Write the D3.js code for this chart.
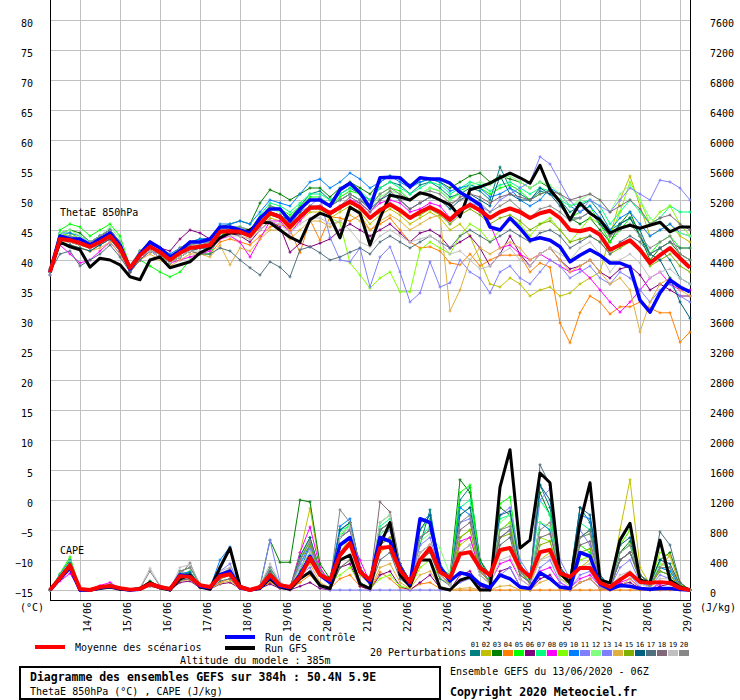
<!DOCTYPE html>
<html><head><meta charset="utf-8">
<script src="https://cdn.jsdelivr.net/npm/d3@7"></script>
<style>
body{margin:0;background:#fff}
svg text{font-family:"DejaVu Sans Mono",monospace;font-size:10px;fill:#000}
</style></head><body>
<script>
// ---- data (6h steps, 0..384h from 13/06 06Z) ----
var dayLabels = ["14/06","15/06","16/06","17/06","18/06","19/06","20/06","21/06","22/06","23/06","24/06","25/06","26/06","27/06","28/06","29/06"];
var thetaTicks = [-15,-10,-5,0,5,10,15,20,25,30,35,40,45,50,55,60,65,70,75,80];
var capeTicks = [0,400,800,1200,1600,2000,2400,2800,3200,3600,4000,4400,4800,5200,5600,6000,6400,6800,7200,7600];
var memberColors = ["#008080","#c0c000","#008000","#ff8000","#00ff00","#800080","#00ff80","#ff00ff","#80ff00","#0080ff",
                    "#8080ff","#80ff80","#8080ff","#e0b040","#80b000","#006080","#507080","#806878","#c0c0c0","#888888"];

// ThetaE 850hPa (°C)
var thetaMean = [38.0,43.5,43.3,42.8,42.2,43.0,44.0,42.0, 38.7,40.8,42.2,41.3,40.0,41.2,42.0,42.2, 42.5,44.7,44.8,44.7,44.0,46.0,47.8,47.2,
  45.5,47.2,48.7,48.8,47.8,48.8,49.7,48.8, 47.0,48.3,49.3,48.3,47.0,48.0,48.8,48.0, 46.7,48.3,49.2,48.3,47.0,48.0,48.6,48.0,
  47.0,47.8,48.2,47.0,45.0,44.8,45.2,44.2, 41.7,42.5,43.3,41.7,39.5,40.8,42.0,40.3, 38.7];
var thetaCtrl = [38,44,43.5,43.5,42.5,43.5,44.5,42.5, 38.5,41,43,42,40.5,41.5,43,43, 43.5,45.5,45.5,45,44.5,47,48.5,48.5,
  46.5,48.5,50,50,49,51.7,52.8,51.2, 48.7,53.7,53.8,53.7,52.2,53.7,53.5,53.5, 52.8,51.3,50.3,49.2,45.5,45,47,45.3,
  43.3,43.7,43.3,42.2,39.7,40.8,41.7,40.8, 39.5,39.5,38.8,33.3,31.3,34.5,36.7,35.5, 34.7];
var thetaGfs = [38,43,42.2,41.7,38.8,40.3,40,39.2, 37.2,36.7,40,40.5,38.7,39.2,39.7,41.2, 42,43.7,44.5,44.5,45,46.3,46.2,45,
  43.8,43,46.7,47.8,47.2,43.7,48.8,47.8, 42.5,47,50.8,50.5,50,51.2,50.8,50, 49.2,47.2,51.7,52.2,52.8,53.7,54.5,53.7,
  52.8,55.8,51.7,49.7,46.7,49.5,47.8,46.7, 44.5,45.3,45.8,45.3,45.8,46.3,44.7,45.5, 45.5];
var thetaP01 = [37.5,44,44.5,43.5,42,43.5,44.5,42.5, 38.5,41,43,42,40.5,41.5,42.5,43, 43,45.5,45,45,44.5,47,49,48.5,
  47,49,51,51.5,50,51,52,51, 50,52,53,52.5,51,52.5,53,52, 50.5,51,52,51.5,50,55.5,52,51, 50,51.5,51,50,48,49,50,48, 45,46,47,45,41,42,40,37, 36];
var thetaP02 = [38,43,43,42.5,42,42.5,43.5,41.5, 38,40.5,41.5,41,39.5,40.5,41.5,42, 42,44,44.5,44,43.5,45.5,47,46.5,
  45,46.5,48,48,47,48,49,48, 46,47.5,48.5,47.5,46,47,48,47, 45,46,44,40,36,35.5,37,36, 34,35,35.5,34,34.5,36,37,38, 44,50,54,49,44,45,46,44, 43];
var thetaP03 = [38.5,44.5,45,44.5,43,44,45,43, 39,41.5,43,42,40.5,42,43,43.5, 43.5,45.5,46,46.5,46,49.5,51.7,51,
  50,51,52,52,50.5,52,53,52, 51,53,54,53.5,52.5,53,53.5,53, 52,53,54,54.5,53,54,53.5,53, 52,53,52,50,47,46,47,45, 43,46,48,44,40,42,43,41, 40];
var thetaP04 = [37.5,43,42.5,42,41.5,42.5,43.5,41.5, 38,40,41.5,40.5,39.5,40.5,41.5,41, 41,43,43.5,43,42.5,44,45.5,46,
  45,41.2,46.7,43.3,47.2,47,46.5,47.5, 45,46,47,45,43,42,42.2,41.5, 39.5,39.2,41,39,40,40.8,40.8,40.8, 38,39.5,38.8,29.5,26.2,31.2,34,33, 31,32.2,32.2,33,32,31.2,31.2,26.3, 28];
var thetaP05 = [38,45,46,45.5,44,45,46,44, 39,40,39,38,37.2,38,40,41, 41,44,45,45.5,45,47,49,48.5,
  47.5,49,50.5,50.5,49,50.5,51.5,51, 49,51,52,51.5,50,51,52,51.5, 50,51.5,52.5,52,51,52,52.5,51.5, 50,51,51.5,50,47,48,49,46, 43,45,47,44,41,43,44,42, 42];
var thetaP06 = [38,43.5,43,42.5,42.5,44,45,43, 39,41,42.5,42,41.5,43.5,45,44.5, 43.5,45,44.5,44,43,45,46.5,45.5,
  41.3,42.8,42.2,42.8,43.5,45,46,45, 44,45,46,44.5,43,44.5,45,44, 42,43,44,42,39,41,44,41, 39,41,42,40,38.5,39,40,38, 37,38.5,39,37.5,35,36,35,34, 34];
var thetaP07 = [38,44,44,43.5,42.5,43.5,44.5,42.5, 38.5,41,42.5,41.5,40.5,41.5,42.5,43, 43,45,45.5,45.5,45,47.5,49.5,49,
  48,49.5,51,51,50,51,52,51.5, 50,52,53,52,51,52,53,52.5, 51,52,53,52.5,51.5,52.5,53,52, 51,52,51.5,50,49,49.5,50,49, 46,48,50,48,46,47,49,48, 48];
var thetaP08 = [38,42.5,41,39.5,40,41.5,43,41, 38,40,41.5,40.5,39.5,40,40.5,41, 41.5,43.5,44,43,40.5,43.5,46.5,46.5,
  44.5,46.5,48.5,49,48,49,50,49.5, 48,49.5,50,49.5,48,48.5,49.5,49, 47,48,49,48,46,42,42.5,41, 40,41,40,39,38,38.5,37,35, 33,31.3,33,35,37,38,36,35, 35];
var thetaP09 = [38,44,44.5,43.5,42.5,43,44,42, 38.5,40.5,42,41,39.5,41,42,42.5, 42.5,44.5,45,45,44.5,46,48,47.5,
  46,47.5,49,48.5,47,46.2,39.5,37.5, 35.3,37,38,34.7,34.7,41.7,43,42, 41,44,46,45,43,45,47,46, 44,46,47,45,43,45,47,46, 44,48,53,50,46,48,49,46, 44];
var thetaP10 = [38.5,44.5,44.5,44,43,44,45,43, 39,41.5,43,42,41,42,43,43.5, 43.5,46,46,46.5,46,48,50,49.5,
  49,51,53,53.5,52,53,54.5,53.5, 52,53,54,53,52,53,53.5,53, 51.5,52,52.5,52,50.5,51,52,50, 49,50,52,51,49,48,49,47, 45,47,48,46,44,45,46,44.5, 44];
var thetaP11 = [38,43.5,43,42.5,42,43,44,42, 38.5,40.5,42,41,40,41,42,42, 42.5,44.5,45,44.5,44,46,48,47.5,
  46,48,49,50.5,43.8,40,39.7,42, 35.5,40.5,42.2,38,33,34.5,39.7,35.5, 36.2,40,38,37,34.5,38,39,37, 36,38,40,39,37,38,39,37, 36,38,37,35,33,35,36,34, 33];
var thetaP12 = [38,44.5,45,44,43,44,45.5,43.5, 39,41.5,42.5,41.5,40,41.5,42.5,43, 43,45,45.5,45.5,45,47,48.5,48,
  47,48.5,50,50,49,50,51,50, 49,50.5,51.5,51,50,51,52,51.5, 50,51,52.5,53,52.5,53.5,54,53, 52,53,52.5,51,49,50,51,50, 48,51,52.5,50,47,46,45,44.5, 44];
var thetaP13 = [37.5,43,43.5,43,42,42.5,43.5,41.5, 38,40.5,41.5,41,40,41,41.5,42, 42,44,44.5,44.5,44,45.5,47.5,47,
  45.5,47,48.5,48.5,47.5,48.5,49.5,48.5, 47,48.5,49.5,48.5,47,48,49,48, 46,48,49.5,49,48,50,51,52, 53,57.2,56,53,50,48,50,49, 48,50,52,51,50,53.3,53,52, 50];
var thetaP14 = [38,43,42.5,42,41.5,42,43,41, 38,40,41,40,39,40,41,41, 40.5,42.5,39.2,42,41.5,43.5,45,45,
  43.5,45,46.5,46.5,45.5,46.5,47.5,46.5, 45,46.5,47.5,46.5,45,46,47,47.5, 31.5,35,40,42,41,42,43,42, 40,41,42,40,38,39,40,38, 36,37,35,28,33,36,37,35, 34];
var thetaP15 = [38,43.5,43,42.5,42,43,44,42, 38.5,40.5,42,41,39.5,41,42,42, 42.5,44.5,44.5,44.5,44,46,47.5,47,
  45.5,47,48.5,48.5,47.5,48.5,49.5,48.5, 47,48,49,48,47,47.5,48.5,47.5, 46,47.5,48.5,47.5,46,47,47.5,46.5, 45,46,46.5,45,43,43.5,44,43, 41,42,43,41.5,39,40,41,39, 38];
var thetaP16 = [38,43,42.5,42,41.5,42.5,43.5,41.5, 38,40.5,41.5,40.5,39.5,40.5,41.5,42, 42,44,44.5,44.5,44,46,48,47.5,
  46.5,48,50,50,49,50,51,50, 48.5,50,51,50,48.5,49.5,50.5,50, 48.5,50,51,50,49,54,51,50, 50,52,51,49,47,47,48,46, 44,46,47,44,41,40,37,33, 30.3];
var thetaP17 = [38,41,41.5,39,40,41,42.5,40.5, 38,40,41.5,40.5,39.5,40.5,41.5,41, 41,42,41.5,40,38.7,37.5,39.7,38.8,
  37.2,41.7,42.2,41.2,40,40.5,41.3,42, 41,43,44,43,42,43,44,43, 42,44,45,44,43,44,45,44, 43,44.5,45,44,42,43,44,43, 41,43,44,43,41,42,43,42, 42];
var thetaP18 = [38,43.5,43.5,43,42.5,43.5,44.5,42.5, 38.5,41,42.5,41.5,40.5,41.5,42.5,42.5, 43,45,45,45,44.5,46.5,48,47.5,
  46,47.5,49,49,48,49,50.5,49.5, 48,50,51.5,50,48.5,49.5,50.5,50, 49,50.5,51,50.5,49.5,50.5,51,50.5, 50,51,51.5,51,50,50.5,51,50, 48,49,50,48.5,46,47,47.5,46, 45];
var thetaP19 = [38,43,43,42.5,42,43,44,42, 38.5,40.5,41.5,40.5,39.5,40.5,41.5,41.5, 42,44,44,44,43.5,45,46.5,46,
  44.5,46,47,47,46,46.5,45,43, 42.2,44,45,44,43,43.5,44,43, 41,41.5,40,38.5,39,41,42,40, 39,41,42,41,40,42,43,41, 38,40,41,39.5,37,38,38.5,37, 36];
var thetaP20 = [38,44,44,43.5,43,44,45,43, 39,41.5,43,42,40.5,42,43,43, 43,45.5,45.5,45.5,45,47,49,48.5,
  47,48.5,50,50,49,50,51,50, 49,51,52,51,50,51,51.5,51, 49.5,50,50.5,49.5,48,49,50,48.5, 47,48.5,49,48,46.5,47,48,46.5, 44,45,46,44,42,43,44,41, 40];
var thetaMembers = [thetaP01,thetaP02,thetaP03,thetaP04,thetaP05,thetaP06,thetaP07,thetaP08,thetaP09,thetaP10,
                    thetaP11,thetaP12,thetaP13,thetaP14,thetaP15,thetaP16,thetaP17,thetaP18,thetaP19,thetaP20];

// CAPE (J/kg)
var capeMean = [0,160,330,15,0,40,55,25, 5,15,80,40,15,185,175,65, 40,185,210,40,0,40,200,65,
  40,175,425,200,135,465,625,240, 135,560,575,265,105,400,560,240, 160,480,505,295,200,535,560,295,
  175,505,535,225,175,295,295,95, 40,135,225,105,95,105,95,25, 0];
var capeCtrl = [0,150,300,0,0,30,50,20, 0,10,80,40,10,200,180,50, 30,200,250,30,0,30,180,50,
  30,200,450,200,100,600,700,250, 100,700,650,300,80,950,900,300, 120,230,200,80,30,200,150,40,
  20,230,150,40,20,500,450,80, 10,60,50,20,10,20,20,5, 0];
var capeGfs = [0,150,300,0,0,20,40,10, 0,20,100,30,0,150,200,40, 10,300,560,50,0,20,150,40,
  10,150,240,60,20,400,465,80, 20,600,900,200,50,400,400,30, 0,130,175,0,0,1370,1870,560,
  665,1560,1430,225,95,890,1430,135, 95,665,890,135,95,665,135,40, 0];
var capeP01 = [0,180,350,10,0,20,60,20, 0,20,100,40,10,200,220,60, 30,200,250,40,0,40,250,80,
  30,250,600,250,150,800,900,300, 100,700,800,350,120,600,1070,300, 150,1200,1370,400,200,800,900,350, 150,1400,1100,300,150,1100,900,150, 30,400,500,150,80,250,200,50, 0];
var capeP02 = [0,150,300,0,0,30,50,10, 0,10,60,30,0,150,180,40, 20,150,200,30,0,30,200,60,
  20,500,1090,300,100,500,700,200, 80,500,600,250,80,400,500,200, 80,600,700,250,100,500,550,200, 100,400,500,150,80,300,400,100, 20,800,1470,300,80,300,465,80, 0];
var capeP03 = [0,200,400,10,0,30,80,30, 0,30,120,50,10,250,300,80, 30,200,250,40,0,50,665,370,
  370,1200,1175,350,150,700,800,300, 100,800,900,350,120,700,800,300, 200,1470,1300,400,150,1100,1000,300, 150,1300,1000,300,100,700,800,150, 30,500,650,200,100,400,500,100, 0];
var capeP04 = [0,150,280,0,0,20,40,10, 0,10,60,20,0,120,150,30, 10,100,150,20,0,20,100,30,
  10,100,200,50,20,150,200,50, 10,240,150,30,10,80,100,20, 0,0,0,0,0,0,0,0, 0,0,0,0,0,0,0,0, 0,0,0,0,0,0,0,0, 0];
var capeP05 = [0,220,440,20,0,30,70,30, 0,20,90,40,10,200,250,60, 20,180,220,40,0,40,250,80,
  30,300,500,200,100,700,900,250, 80,900,1000,300,100,800,950,250, 150,1300,1400,350,150,1150,1240,300, 100,900,800,200,80,600,500,100, 20,600,800,150,60,350,300,50, 0];
var capeP06 = [0,150,300,0,0,20,40,10, 0,10,50,20,0,100,120,30, 10,80,100,20,0,20,80,20,
  0,50,100,20,0,300,350,50, 0,200,250,50,0,100,200,30, 0,200,250,50,0,250,300,50, 0,150,200,30,0,100,150,20, 0,80,100,20,0,50,80,10, 0];
var capeP07 = [0,190,380,10,0,30,60,20, 0,20,80,40,10,180,220,60, 20,180,220,30,0,40,220,70,
  30,400,700,250,100,800,850,300, 100,850,950,350,120,700,850,300, 150,1100,1200,350,150,950,1000,300, 100,1200,1000,250,100,900,800,150, 30,500,600,150,60,300,250,50, 0];
var capeP08 = [0,120,220,0,0,60,100,20, 0,20,70,30,0,150,180,50, 20,150,200,30,0,30,200,60,
  20,500,840,300,100,600,700,400, 100,600,700,250,100,500,600,200, 80,650,700,250,100,350,400,150, 50,250,300,100,30,150,200,50, 10,100,150,30,10,80,100,20, 0];
var capeP09 = [0,200,420,10,0,40,70,20, 0,20,90,40,10,200,230,60, 20,180,230,40,0,40,280,80,
  30,400,700,250,100,200,300,100, 20,150,200,50,20,300,400,150, 80,700,800,300,100,800,900,300, 100,700,650,200,80,400,450,100, 20,600,800,200,80,500,450,60, 0];
var capeP10 = [0,210,400,20,0,30,60,20, 0,20,100,40,10,220,240,60, 30,400,575,60,0,50,300,80,
  30,350,600,250,100,850,950,300, 100,750,850,300,100,900,1000,350, 150,1100,1000,300,100,700,800,250, 100,900,800,250,100,1000,950,200, 40,400,500,150,60,300,250,50, 0];
var capeP11 = [0,160,320,10,0,30,50,20, 0,10,80,30,0,170,200,50, 20,250,350,40,0,50,665,100,
  20,200,300,50,0,0,0,0, 0,0,0,0,0,0,0,0, 0,100,150,20,0,200,300,50, 20,300,400,100,20,200,250,40, 10,150,200,40,10,100,100,20, 0];
var capeP12 = [0,200,380,20,0,30,60,20, 0,20,90,40,10,190,220,60, 20,180,230,40,0,40,260,80,
  30,450,700,250,100,750,850,300, 100,750,850,300,120,650,750,560, 200,1000,1100,350,150,900,1000,300, 100,900,850,250,100,700,750,150, 30,500,600,150,60,350,300,50, 0];
var capeP13 = [0,170,340,10,0,30,60,20, 0,20,90,40,10,190,210,60, 20,170,210,40,0,40,230,70,
  30,350,550,200,100,700,800,250, 80,700,800,300,100,600,700,250, 100,900,950,300,100,1000,1100,400, 200,1200,1350,400,150,800,600,150, 30,300,400,100,40,200,150,30, 0];
var capeP14 = [0,140,260,0,0,20,40,10, 0,10,50,20,0,120,140,30, 10,90,120,20,0,20,120,30,
  10,200,350,100,30,300,400,100, 20,300,350,100,20,200,250,50, 0,20,30,0,0,50,60,0, 0,100,150,20,0,100,150,20, 0,50,150,20,0,300,465,50, 0];
var capeP15 = [0,180,350,10,0,30,50,20, 0,20,80,30,0,170,190,50, 20,150,200,30,0,30,200,60,
  20,400,600,200,80,600,700,250, 80,600,700,250,80,500,600,200, 80,700,800,250,100,700,750,250, 80,600,650,200,80,500,550,100, 20,400,500,120,50,250,200,40, 0];
var capeP16 = [0,190,360,10,0,30,60,20, 0,20,90,40,10,200,230,60, 20,200,250,40,0,40,250,80,
  30,450,700,250,100,800,900,300, 100,800,900,350,120,800,1000,300, 150,1000,1100,350,150,1000,1050,300, 150,1400,1200,300,150,1100,1000,200, 40,600,700,200,80,400,350,60, 0];
var capeP17 = [0,150,280,0,0,20,40,10, 0,10,60,20,0,130,150,40, 10,120,150,20,0,20,150,40,
  10,150,250,50,20,300,400,100, 30,400,500,150,50,400,500,150, 60,500,600,200,80,600,700,200, 100,1670,1400,300,100,700,800,150, 30,400,500,200,100,775,600,100, 0];
var capeP18 = [0,170,330,10,0,30,60,20, 0,20,100,40,10,200,360,60, 20,170,220,40,0,40,240,70,
  30,400,650,250,100,700,800,300, 100,1175,1040,350,120,700,800,300, 120,800,900,300,100,700,800,250, 100,700,750,200,80,600,650,150, 30,400,500,150,60,300,300,50, 0];
var capeP19 = [0,160,310,10,0,30,60,20, 0,30,290,60,10,300,340,80, 30,250,300,50,0,60,350,100,
  30,300,500,200,80,700,850,250, 80,900,1000,300,100,500,600,200, 60,500,600,200,80,400,450,150, 50,400,450,150,50,300,350,80, 20,200,250,80,30,150,150,30, 0];
var capeP20 = [0,170,330,10,0,30,50,20, 0,20,250,50,10,250,300,70, 30,220,280,50,0,50,300,90,
  30,400,650,250,100,1070,900,300, 100,800,900,300,100,700,800,300, 120,900,1000,300,100,800,850,250, 100,800,900,250,100,700,750,150, 30,500,600,150,60,300,300,50, 0];
var capeMembers = [capeP01,capeP02,capeP03,capeP04,capeP05,capeP06,capeP07,capeP08,capeP09,capeP10,
                   capeP11,capeP12,capeP13,capeP14,capeP15,capeP16,capeP17,capeP18,capeP19,capeP20];

// ---- drawing ----
var svg = d3.select("body").append("svg").attr("width", 740).attr("height", 700);

var hours = d3.range(0, 385, 6);
var dayHours = dayLabels.map(function(d, i) { return 18 + 24 * i; });
var x = d3.scaleLinear().domain([0, 384]).range([50, 690]);
var yT = d3.scaleLinear().domain([-15, 80]).range([590, 20]);
var yC = d3.scaleLinear().domain([0, 7600]).range([590, 20]);

//grid
var grid = svg.append("g").attr("stroke", "#c0c0c0").attr("stroke-width", 1).attr("shape-rendering", "crispEdges");
grid.selectAll("line.v").data(dayHours).enter().append("line").attr("class", "v")
    .attr("x1", function(d) { return Math.round(x(d)) + 0.5; }).attr("x2", function(d) { return Math.round(x(d)) + 0.5; })
    .attr("y1", 0).attr("y2", 600);
grid.selectAll("line.h").data(thetaTicks).enter().append("line").attr("class", "h")
    .attr("x1", 50).attr("x2", 690)
    .attr("y1", function(d) { return Math.round(yT(d)) + 0.5; }).attr("y2", function(d) { return Math.round(yT(d)) + 0.5; });

//frame
var frame = svg.append("g").attr("stroke", "#000").attr("shape-rendering", "crispEdges");
frame.append("line").attr("x1", 50.5).attr("x2", 50.5).attr("y1", 0).attr("y2", 601).attr("stroke-width", 1.5);
frame.append("line").attr("x1", 690.5).attr("x2", 690.5).attr("y1", 0).attr("y2", 601).attr("stroke-width", 1.5);
frame.append("line").attr("x1", 50).attr("x2", 691).attr("y1", 600.5).attr("y2", 600.5).attr("stroke-width", 1.5);

//axes labels
var axL = svg.append("g").attr("transform", "translate(50,3)")
    .call(d3.axisLeft(yT).tickValues(thetaTicks).tickSize(0).tickPadding(17).tickFormat(d3.format("d")));
axL.select(".domain").remove();
var axR = svg.append("g").attr("transform", "translate(690,3)")
    .call(d3.axisRight(yC).tickValues(capeTicks).tickSize(0).tickPadding(20).tickFormat(d3.format("d")));
axR.select(".domain").remove();
svg.selectAll(".tick text").attr("font-family", null).attr("font-size", null);
svg.append("text").attr("x", 20).attr("y", 611).text("(°C)");
svg.append("text").attr("x", 700).attr("y", 611).text("(J/kg)");

svg.selectAll("text.day").data(dayHours).enter().append("text").attr("class", "day")
    .attr("text-anchor", "end")
    .attr("transform", function(d) { return "translate(" + (x(d) + 11) + ",602) rotate(-90)"; })
    .text(function(d, i) { return dayLabels[i]; });

svg.append("text").attr("x", 60).attr("y", 216).text("ThetaE 850hPa");
svg.append("text").attr("x", 60).attr("y", 554).text("CAPE");

//series
var lineT = d3.line().x(function(d, i) { return x(hours[i]); }).y(function(d) { return yT(d); });
var lineC = d3.line().x(function(d, i) { return x(hours[i]); }).y(function(d) { return yC(d); });

function crosses(vals, yscale) {
    return vals.map(function(d, i) {
        var px = x(hours[i]), py = yscale(d);
        return "M" + (px - 1.5) + "," + py + "h3M" + px + "," + (py - 1.5) + "v3";
    }).join("");
}

var gM = svg.append("g").attr("fill", "none");
thetaMembers.forEach(function(s, k) {
    gM.append("path").attr("d", lineT(s)).attr("stroke", memberColors[k]).attr("stroke-width", 1);
    gM.append("path").attr("d", crosses(s, yT)).attr("stroke", memberColors[k]).attr("stroke-width", 1);
});
capeMembers.forEach(function(s, k) {
    gM.append("path").attr("d", lineC(s)).attr("stroke", memberColors[k]).attr("stroke-width", 1);
    gM.append("path").attr("d", crosses(s, yC)).attr("stroke", memberColors[k]).attr("stroke-width", 1);
});

var main = [
    {t: thetaGfs, c: capeGfs, color: "#000000", w: 3},
    {t: thetaCtrl, c: capeCtrl, color: "#0000ff", w: 3.5},
    {t: thetaMean, c: capeMean, color: "#ff0000", w: 4}
];
main.forEach(function(m) {
    gM.append("path").attr("d", lineT(m.t)).attr("stroke", m.color).attr("stroke-width", m.w).attr("stroke-linejoin", "round");
    gM.append("path").attr("d", lineC(m.c)).attr("stroke", m.color).attr("stroke-width", m.w).attr("stroke-linejoin", "round");
});

//legend
svg.append("line").attr("x1", 35).attr("x2", 65).attr("y1", 647).attr("y2", 647).attr("stroke", "#ff0000").attr("stroke-width", 4);
svg.append("text").attr("x", 75).attr("y", 651).text("Moyenne des scénarios");
svg.append("line").attr("x1", 225).attr("x2", 255).attr("y1", 637).attr("y2", 637).attr("stroke", "#0000ff").attr("stroke-width", 4);
svg.append("text").attr("x", 265).attr("y", 641).text("Run de contrôle");
svg.append("line").attr("x1", 225).attr("x2", 255).attr("y1", 648).attr("y2", 648).attr("stroke", "#000000").attr("stroke-width", 4);
svg.append("text").attr("x", 265).attr("y", 652).text("Run GFS");
svg.append("text").attr("x", 180).attr("y", 664).text("Altitude du modele : 385m");
svg.append("text").attr("x", 370).attr("y", 656).text("20 Perturbations");

var sw = svg.append("g");
memberColors.forEach(function(c, k) {
    var sx = 470 + k * 11;
    sw.append("rect").attr("x", sx).attr("y", 650).attr("width", 10).attr("height", 6).attr("fill", c);
    sw.append("text").attr("x", sx + 5).attr("y", 647).attr("text-anchor", "middle")
        .style("font-size", "7px").text(d3.format("02d")(k + 1));
});

svg.append("rect").attr("x", 20).attr("y", 667).attr("width", 420).attr("height", 32)
    .attr("fill", "none").attr("stroke", "#000").attr("stroke-width", 2);
svg.append("text").attr("x", 30).attr("y", 681).style("font-size", "11.5px").style("font-weight", "bold")
    .text("Diagramme des ensembles GEFS sur 384h : 50.4N 5.9E");
svg.append("text").attr("x", 30).attr("y", 695).text("ThetaE 850hPa (°C) , CAPE (J/kg)");
svg.append("text").attr("x", 450).attr("y", 675).text("Ensemble GEFS du 13/06/2020 - 06Z");
svg.append("text").attr("x", 450).attr("y", 696).style("font-size", "11.5px").style("font-weight", "bold")
    .text("Copyright 2020 Meteociel.fr");
</script></body></html>
